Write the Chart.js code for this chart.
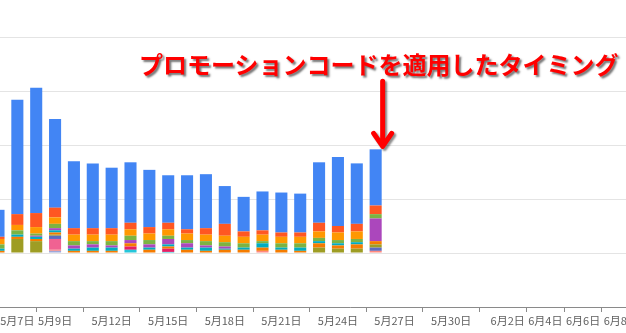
<!DOCTYPE html>
<html lang="ja">
<head>
<meta charset="UTF-8">
<title>プロモーションコードを適用したタイミング</title>
<script src="https://cdn.jsdelivr.net/npm/chart.js@4.4.0/dist/chart.umd.min.js"></script>
<style>
  body { margin: 0; background: #fff; }
  #wrap { position: relative; width: 626px; height: 333px; overflow: hidden; }
  #note {
    position: absolute; left: 139px; top: 52px;
    font: bold 24px "Noto Sans CJK JP", sans-serif; line-height: 24px;
    color: #ff0000; text-shadow: 2px 2px 2px #777; white-space: nowrap;
  }
</style>
</head>
<body>
<div id="wrap">
  <canvas id="graph" width="700" height="333"></canvas>
  <div id="note">プロモーションコードを適用したタイミング</div>
</div>
<script>
// days of May (5/6 .. 5/26)
const days = [6,7,8,9,10,11,12,13,14,15,16,17,18,19,20,21,22,23,24,25,26];
const promoDay = 26;

const tickDays   = [7, 9, 12, 15, 18, 21, 24, 27, 30, 33, 35, 37, 39];
const tickLabels = ['5月7日','5月9日','5月12日','5月15日','5月18日','5月21日','5月24日','5月27日','5月30日','6月2日','6月4日','6月6日','6月8日'];

// series, bottom of the stack first
const lavender   = [0,0,0,2,0,0,0,0,0,0,0,0,0,0,0,0,0,0,0,0,0];
const salmon     = [0,0,0,1,0,0,0,0,0,0,0,0,0,0,2,0,0,0,0,0,2];
const cyan       = [0,0,0,0,0,0,0,3,0,1,0,0,0,0,0,0,0,0,0,0,0];
const crimson    = [0,0,0,0,0,0,0,3,0,3,0,0,0,0,0,0,0,0,0,0,0];
const pink       = [0,0,0,10,0,0,0,0,0,0,0,0,0,0,0,0,0,0,0,0,0];
const indigo     = [0,0,0,3,0,0,0,0,0,0,0,0,0,0,0,0,0,0,0,0,3];
const olive      = [0,13,11,1,0,0,0,0,0,0,0,0,0,0,0,0,0,5,4,4,3];
const darkOrange = [2,2,2,2,2,2,2,3,3,2,3,2,3,3,3,3,2,4,3,4,3];
const teal       = [2,2,2,2,2,3,3,0,2,2,2,3,1,2,4,2,3,2,2,2,0];
const purple     = [0,0,1,2,3,3,2,3,3,5,4,2,2,0,0,0,0,0,0,0,21];
const green      = [4,4,2,4,4,3,4,4,4,3,3,4,4,4,2,4,4,3,3,3,4];
const orange     = [5,5,6,6,6,6,6,6,6,6,6,6,6,6,6,6,6,6,7,7,0];
const redOrange  = [2,10,13,9,6,6,6,6,6,6,4,6,11,5,4,4,4,8,6,7,8];
const blue       = [25,106,116,82,62,60,56,56,53,44,50,50,35,32,36,37,36,56,64,56,52];

const series = [
  [lavender, '#9fa8da'], [salmon, '#ff8a80'], [cyan, '#26c6da'], [crimson, '#e91e63'],
  [pink, '#f06292'], [indigo, '#5c6bc0'], [olive, '#9e9d24'], [darkOrange, '#f57c00'],
  [teal, '#00acc1'], [purple, '#ab47bc'], [green, '#7cb342'], [orange, '#ff9800'],
  [redOrange, '#ff5722'], [blue, '#4285f4']
];

const datasets = series.map(([vals, col]) => ({
  data: days.map((d, i) => ({ x: d, y: vals[i] })),
  backgroundColor: col,
  borderWidth: 0,
  barPercentage: 0.64,
  categoryPercentage: 1
}));

const arrowPlugin = {
  id: 'arrow',
  afterDatasetsDraw(chart) {
    const meta = chart.getDatasetMeta(chart.data.datasets.length - 1);
    const bar = meta.data[days.indexOf(promoDay)];
    const ctx = chart.ctx;
    const x = bar.x + 7, tip = bar.y - 3, top = tip - 65;
    ctx.save();
    ctx.shadowColor = 'rgba(0,0,0,0.45)';
    ctx.shadowOffsetX = 2; ctx.shadowOffsetY = 2; ctx.shadowBlur = 2;
    ctx.strokeStyle = '#ff0000';
    ctx.lineWidth = 5; ctx.lineCap = 'round'; ctx.lineJoin = 'round';
    ctx.beginPath();
    ctx.moveTo(x, top); ctx.lineTo(x, tip - 3);
    ctx.moveTo(x - 9, tip - 13); ctx.lineTo(x, tip); ctx.lineTo(x + 9, tip - 13);
    ctx.stroke();
    ctx.restore();
  }
};

const ctx = document.getElementById('graph').getContext('2d');
new Chart(ctx, {
  type: 'bar',
  data: { datasets: datasets },
  plugins: [arrowPlugin],
  options: {
    responsive: false,
    animation: false,
    layout: { padding: 0 },
    plugins: { legend: { display: false }, tooltip: { enabled: false } },
    scales: {
      x: {
        type: 'linear', stacked: true, offset: false,
        min: 6.08, max: 43.2,
        afterBuildTicks: s => { s.ticks = tickDays.map(v => ({ value: v })); },
        afterFit: s => { s.height = 26; s.paddingLeft = 0; s.paddingRight = 0; },
        ticks: {
          autoSkip: false, maxRotation: 0, padding: 2,
          color: '#5f5f5f', font: { family: '"Noto Sans CJK JP", sans-serif', size: 11 },
          callback: (v) => tickLabels[tickDays.indexOf(v)]
        },
        grid: { drawOnChartArea: false, drawTicks: true, tickLength: 5, color: '#8a8a8a' },
        border: { color: '#8a8a8a' }
      },
      y: {
        stacked: true, min: -50, max: 234.3,
        afterBuildTicks: s => { s.ticks = s.ticks.filter(t => t.value % 50 === 0); },
        ticks: { display: false, stepSize: 50 },
        grid: { drawTicks: false, color: '#e4e4e4' },
        border: { display: false }
      }
    }
  }
});
</script>
</body>
</html>
